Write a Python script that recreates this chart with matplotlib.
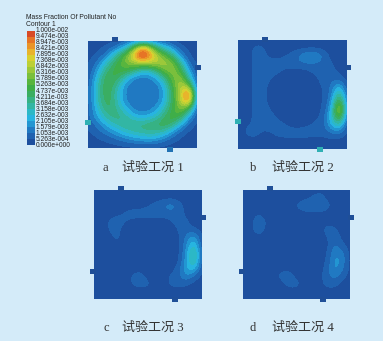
"""
Pollutant mass fraction contours for four test conditions, with shared legend.
"""

import matplotlib
matplotlib.use("Agg")
import matplotlib.pyplot as plt
from matplotlib.colors import ListedColormap, BoundaryNorm
from matplotlib.patches import Rectangle
import numpy as np

W, H = 383, 341

# ── Data ──────────────────────────────────────────────────────────────────────
LEGEND_TITLE = "Mass Fraction Of Pollutant No"
LEGEND_SUB = "Contour 1"
TICK_LABELS = ["1.000e-002", "9.474e-003", "8.947e-003", "8.421e-003", "7.895e-003",
               "7.368e-003", "6.842e-003", "6.316e-003", "5.789e-003", "5.263e-003",
               "4.737e-003", "4.211e-003", "3.684e-003", "3.158e-003", "2.632e-003",
               "2.105e-003", "1.579e-003", "1.053e-003", "5.263e-004", "0.000e+000"]
LEVELS = [float(t) * 1000 for t in TICK_LABELS[::-1]]
COLORS = ["#1d4f9e", "#1f62b0", "#2079c2", "#2296d2", "#27b4e0", "#2cb8c6", "#32b6a4",
          "#36b284", "#3aae62", "#3fae48", "#58b53e", "#7abf3c", "#9cc83a", "#bcd036",
          "#d8d030", "#e8b42c", "#ea9428", "#e67426", "#d84a26"]

# mass fraction x 1000, rows run top to bottom, 15 x 15
FIELD_A = [
    [.3, .3, .3, .3, .4, .5, .6, .7, .6, .5, .4, .3, .3, .3, .3],
    [.4, .4, .5, .9, 1.6, 3, 6, 9, 7, 4, 2.8, 1.5, .6, .4, .3],
    [.4, .5, 1.0, 2.4, 4.4, 6.2, 8.8, 11, 9, 6.8, 5.5, 3.8, 1.5, .5, .3],
    [.4, 1.0, 2.4, 4, 5.2, 6, 6.6, 7, 7, 7, 6.8, 6, 3.5, 1, .4],
    [.5, 1.6, 3.6, 4.8, 5.2, 5, 4, 2.6, 3, 4.4, 6, 6.4, 5, 2, .5],
    [.6, 2.2, 4.4, 5, 4.2, 2.4, 1.3, 1.2, 1.3, 2.2, 4, 6, 6.4, 3.4, .6],
    [.7, 2.6, 4.6, 4.6, 3, 1.4, 1.2, 1.2, 1.2, 1.3, 2.8, 5.5, 7.2, 6.5, .8],
    [.7, 2.7, 4.6, 4.4, 2.6, 1.3, 1.2, 1.2, 1.2, 1.2, 2.4, 5, 7.5, 10.5, 1.2],
    [.7, 2.6, 4.4, 4.4, 2.8, 1.4, 1.2, 1.2, 1.2, 1.3, 2.8, 5, 7.2, 9, 1],
    [.7, 2.2, 3.8, 4.4, 3.4, 2.4, 1.3, 1.2, 1.3, 2.2, 3.6, 5.2, 6.2, 4.4, .7],
    [.8, 1.8, 3, 3.8, 4, 3.4, 2.6, 2.3, 2.6, 3.4, 4.6, 5.4, 4.5, 1.8, .5],
    [.6, 1.1, 1.9, 2.8, 3.4, 3.8, 3.9, 4, 4.3, 4.6, 4.8, 3.8, 2, .8, .4],
    [.4, .7, 1.1, 1.6, 2.2, 2.8, 3.2, 3.4, 3.6, 3.4, 2.8, 1.5, .7, .4, .3],
    [.3, .4, .5, .7, 1, 1.3, 1.6, 1.8, 1.9, 1.6, 1, .6, .4, .3, .3],
    [.3, .3, .3, .3, .3, .3, .3, .3, .3, .3, .3, .3, .3, .3, .3],
]
FIELD_B = [
    [.3, .3, .3, .3, .3, .3, .3, .3, .3, .3, .3, .3, .3, .3, .3],
    [.3, .3, .6, .7, .3, .3, .3, .3, .3, .3, .3, .3, .3, .3, .3],
    [.3, .3, .6, .8, .4, .3, .5, .7, 1.3, 1.9, 1.9, 1, .3, .3, .3],
    [.3, .3, .6, .8, .8, .8, .8, .9, 1, 1.1, 1, .8, .6, .3, .3],
    [.3, .3, .6, .8, .8, .7, .4, .3, .3, .4, .7, .8, .7, .4, .3],
    [.3, .3, .6, .8, .6, .3, .3, .3, .3, .3, .4, .8, .9, .8, .3],
    [.3, .3, .6, .8, .4, .3, .3, .3, .3, .3, .3, .6, 1.1, 2.6, .5],
    [.3, .3, .6, .8, .4, .3, .3, .3, .3, .3, .3, .5, 1.2, 4.4, .8],
    [.3, .3, .6, .8, .4, .3, .3, .3, .3, .3, .3, .5, 1.6, 6.4, 1.1],
    [.3, .3, .6, .8, .6, .3, .3, .3, .3, .3, .3, .6, 2.2, 8, 1.2],
    [.3, .3, .6, .8, .8, .5, .3, .3, .3, .3, .4, .8, 2.6, 6, .9],
    [.3, .5, .6, .6, .8, .8, .6, .4, .4, .5, .7, .8, 2.2, 3.2, .5],
    [.3, .6, .8, .5, .4, .7, .8, .8, .8, .8, .7, .7, 1, 1, .4],
    [.3, .3, .3, .3, .3, .3, .3, .3, .3, .3, .3, .3, .3, .3, .3],
    [.3, .3, .3, .3, .3, .3, .3, .3, .3, .3, .3, .3, .3, .3, .3],
]
FIELD_C = [
    [.3, .3, .3, .3, .3, .3, .3, .3, .3, .3, .3, .3, .3, .3, .3],
    [.3, .3, .3, .3, .3, .3, .3, .3, .3, .3, .3, .3, .3, .3, .3],
    [.3, .3, .3, .3, .3, .3, .3, .5, .7, 1.1, 1.6, .8, .3, .3, .3],
    [.3, .3, .3, .4, .6, .8, .8, .8, .8, .8, .8, .8, .4, .3, .3],
    [.3, .3, .6, .8, .6, .4, .3, .3, .3, .3, .5, .8, .6, .3, .3],
    [.3, .3, .6, .7, .3, .3, .3, .3, .3, .3, .3, .6, .8, .5, .3],
    [.3, .3, .4, .7, .3, .3, .3, .3, .3, .3, .3, .4, 1.2, 2.0, .4],
    [.3, .3, .3, .5, .3, .3, .3, .3, .3, .3, .3, .3, 1.6, 3.0, .4],
    [.3, .3, .3, .3, .3, .3, .3, .3, .3, .3, .3, .3, 1.8, 4.2, .6],
    [.3, .3, .3, .3, .3, .3, .3, .3, .3, .3, .3, .3, 2, 4, .6],
    [.3, .3, .3, .3, .3, .3, .3, .3, .3, .3, .3, .7, 2.3, 2.8, .4],
    [.3, .3, .3, .3, .3, .6, .8, .3, .3, .3, .6, .9, 1.8, 1, .3],
    [.3, .3, .3, .3, .3, .6, .8, .7, .3, .3, .7, .8, .6, .3, .3],
    [.3, .3, .3, .3, .3, .3, .3, .3, .3, .3, .3, .3, .3, .3, .3],
    [.3, .3, .3, .3, .3, .3, .3, .3, .3, .3, .3, .3, .3, .3, .3],
]
FIELD_D = [
    [.3, .3, .3, .3, .3, .3, .3, .3, .3, .3, .3, .3, .3, .3, .3],
    [.3, .3, .3, .3, .3, .3, .3, .3, .3, .5, 1, .3, .3, .3, .3],
    [.3, .3, .3, .3, .3, .3, .3, .6, 1, 1.3, 1.3, .8, .3, .3, .3],
    [.3, .3, .5, .3, .3, .3, .3, .3, .3, .3, .3, .3, .3, .3, .3],
    [.3, .3, 1, .5, .3, .3, .3, .3, .3, .3, .3, .3, .3, .3, .3],
    [.3, .3, 1, .4, .3, .3, .3, .3, .3, .3, .3, .8, .6, .3, .3],
    [.3, .3, .4, .3, .3, .3, .3, .3, .3, .3, .3, .5, 1, .3, .3],
    [.3, .3, .3, .3, .3, .3, .3, .3, .3, .3, .3, .3, 1.2, .6, .3],
    [.3, .3, .3, .3, .3, .3, .3, .3, .3, .3, .3, .4, 1.6, 1.3, .3],
    [.3, .3, .3, .3, .3, .3, .3, .3, .3, .3, .3, .5, 1.9, 1.5, .3],
    [.3, .3, .3, .3, .3, .3, .3, .3, .3, .3, .3, .7, 1.9, 1.3, .3],
    [.3, .3, .3, .3, .3, .8, .9, .3, .3, .3, .3, .9, 1.4, .8, .3],
    [.3, .3, .3, .3, .3, .3, .8, .8, .3, .3, .3, .8, .8, .3, .3],
    [.3, .3, .3, .3, .3, .3, .3, .3, .3, .3, .3, .3, .3, .3, .3],
    [.3, .3, .3, .3, .3, .3, .3, .3, .3, .3, .3, .3, .3, .3, .3],
]
LETTERS = ["a", "b", "c", "d"]
CAPTIONS = ["试验工况 1", "试验工况 2", "试验工况 3", "试验工况 4"]

# ── Layout, in reference pixels ───────────────────────────────────────────────
BG = "#d4ebf9"
BOXES = [(88, 40.5, 197, 148), (238, 40, 347, 148.5), (94, 190, 202, 299), (243, 190, 350, 299)]
CAPTION_POS = [(105, 122, 168), (253, 272, 168), (106, 122, 328), (253, 272, 328)]
DARK, TEAL, MID = "#1f4f98", "#2fb0b4", "#2272b4"
TABS = [
    [(115, 39, DARK), (197.5, 67, DARK), (87.5, 122, TEAL), (170, 149, MID)],
    [(265, 39, DARK), (347.5, 67, DARK), (237.5, 121, TEAL), (319.5, 149, TEAL)],
    [(121, 188.5, DARK), (203, 217, DARK), (93, 271, DARK), (175, 299.5, DARK)],
    [(269.5, 189, DARK), (351, 217, DARK), (242, 271, DARK), (323, 299.5, DARK)],
]
SERIF = ["Liberation Serif", "Noto Sans CJK SC"]
SANS = ["Liberation Sans", "DejaVu Sans"]


def add_axes(fig, x0, y0, x1, y1):
    ax = fig.add_axes([x0 / W, 1 - y1 / H, (x1 - x0) / W, (y1 - y0) / H])
    ax.axis("off")
    return ax


def main():
    fig = plt.figure(figsize=(W / 100, H / 100), dpi=100, facecolor=BG)
    cmap = ListedColormap(COLORS)
    norm = BoundaryNorm(LEVELS, cmap.N, clip=True)

    # contour panels, bands come from thresholding the smoothed field
    fields = [FIELD_A, FIELD_B, FIELD_C, FIELD_D]
    for i, (field, box) in enumerate(zip(fields, BOXES)):
        ax = add_axes(fig, *box)
        z = np.array(field)
        half = 0.5 / (z.shape[0] - 1)
        ax.imshow(z, cmap=cmap, norm=norm, interpolation="bicubic", interpolation_stage="data",
                  extent=(-half, 1 + half, -half, 1 + half), aspect="auto")
        ax.set_xlim(0, 1)
        ax.set_ylim(0, 1)

        for tx, ty, color in TABS[i]:
            fig.patches.append(Rectangle(((tx - 3) / W, 1 - (ty + 2.5) / H), 6 / W, 5 / H,
                                         transform=fig.transFigure, color=color,
                                         linewidth=0, figure=fig))

        lx, cx, cy = CAPTION_POS[i]
        fig.text(lx / W, 1 - cy / H, LETTERS[i], family=SERIF, fontsize=9, color="#333333",
                 ha="center", va="center")
        fig.text(cx / W, 1 - cy / H, CAPTIONS[i], family=SERIF, fontsize=9.4, color="#333333",
                 ha="left", va="center")

    # legend colour bar
    cax = add_axes(fig, 26.7, 30.7, 34.7, 145.3)
    cax.pcolormesh([0, 1], np.arange(len(COLORS) + 1), np.arange(len(COLORS)).reshape(-1, 1),
                   cmap=cmap, vmin=-0.5, vmax=len(COLORS) - 0.5)
    cax.set_ylim(0, len(COLORS))
    for k, label in enumerate(TICK_LABELS[::-1]):
        cax.text(1.12, k, label, transform=cax.get_yaxis_transform(), family=SANS,
                 fontsize=4.75, color="#222222", ha="left", va="center")

    fig.text(26.5 / W, 1 - 17.5 / H, LEGEND_TITLE, family=SANS, fontsize=4.85, color="#222222",
             ha="left", va="center")
    fig.text(26.5 / W, 1 - 24 / H, LEGEND_SUB, family=SANS, fontsize=4.85, color="#222222",
             ha="left", va="center")

    fig.savefig("out.png", dpi=100, facecolor=BG)
    plt.close(fig)


if __name__ == "__main__":
    main()
